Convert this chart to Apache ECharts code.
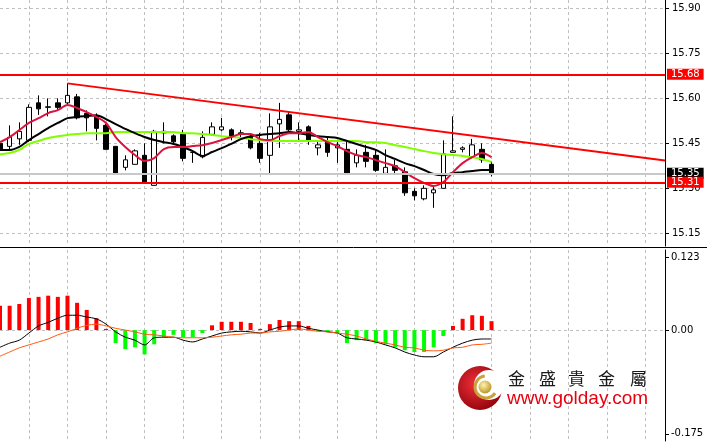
<!DOCTYPE html>
<html><head><meta charset="utf-8">
<script src="https://cdn.jsdelivr.net/npm/echarts@6/dist/echarts.min.js"></script>
<style>html,body{margin:0;padding:0;background:#fff}#c{width:707px;height:445px}</style>
</head><body><div id="c"></div>
<script>
// ---- data ----
const slotCount = 70;
const categories = Array.from({length: slotCount}, (_, i) => String(i));
const opens  = [15.45,15.44,15.465,15.46,15.585,15.57,15.585,15.585,15.605,15.55,
                15.54,15.51,15.44,15.37,15.38,15.41,15.31,15.485,15.475,15.48,
                15.42,15.405,15.48,15.495,15.495,15.485,15.47,15.45,15.41,15.515,
                15.545,15.49,15.505,15.435,15.455,15.435,15.43,15.385,15.42,15.41,
                15.35,15.375,15.355,15.29,15.265,15.285,15.30,15.42,15.43,15.405,
                15.43,15.38];
const highs  = [15.46,15.51,15.52,15.58,15.61,15.60,15.60,15.65,15.615,15.56,
                15.55,15.515,15.44,15.41,15.43,15.45,15.495,15.52,15.48,15.495,
                15.425,15.49,15.52,15.535,15.50,15.495,15.48,15.485,15.55,15.585,
                15.555,15.52,15.51,15.46,15.47,15.46,15.46,15.43,15.445,15.43,
                15.43,15.395,15.37,15.30,15.31,15.31,15.46,15.54,15.44,15.465,
                15.45,15.39];
const lows   = [15.42,15.43,15.445,15.455,15.545,15.54,15.56,15.58,15.53,15.49,
                15.46,15.43,15.35,15.36,15.38,15.315,15.31,15.45,15.45,15.39,
                15.385,15.40,15.475,15.49,15.46,15.47,15.43,15.385,15.35,15.435,
                15.49,15.455,15.445,15.41,15.405,15.385,15.35,15.37,15.37,15.355,
                15.35,15.35,15.275,15.26,15.26,15.235,15.30,15.42,15.42,15.40,
                15.385,15.34];
const closes = [15.43,15.47,15.49,15.57,15.565,15.572,15.57,15.61,15.535,15.535,
                15.50,15.43,15.35,15.395,15.425,15.32,15.49,15.49,15.455,15.40,
                15.42,15.47,15.505,15.505,15.47,15.48,15.435,15.40,15.505,15.53,
                15.495,15.495,15.46,15.445,15.42,15.445,15.35,15.41,15.39,15.36,
                15.37,15.36,15.285,15.275,15.30,15.295,15.415,15.425,15.435,15.445,
                15.395,15.35];
const fastMA = [15.454,15.471,15.494,15.518,15.534,15.551,15.561,15.578,15.568,15.554,
                15.538,15.518,15.471,15.438,15.411,15.391,15.401,15.431,15.438,15.438,
                15.441,15.444,15.451,15.461,15.471,15.481,15.481,15.464,15.461,15.474,
                15.484,15.484,15.488,15.471,15.454,15.441,15.424,15.411,15.404,15.394,
                15.384,15.374,15.354,15.334,15.318,15.308,15.321,15.354,15.384,15.404,
                15.418,15.404];
const midMA  = [15.428,15.428,15.438,15.461,15.481,15.501,15.518,15.534,15.538,15.541,
                15.544,15.531,15.514,15.498,15.484,15.471,15.461,15.454,15.448,15.438,
                15.424,15.408,15.421,15.434,15.448,15.464,15.474,15.478,15.481,15.484,
                15.488,15.484,15.478,15.474,15.471,15.468,15.458,15.448,15.438,15.428,
                15.411,15.398,15.384,15.374,15.361,15.348,15.344,15.351,15.354,15.358,
                15.361,15.361];
const slowMA = [15.414,15.418,15.428,15.448,15.458,15.468,15.474,15.478,15.481,15.484,
                15.484,15.484,15.488,15.488,15.488,15.488,15.488,15.488,15.488,15.484,
                15.484,15.481,15.478,15.474,15.471,15.468,15.464,15.461,15.458,15.458,
                15.458,15.458,15.458,15.458,15.458,15.458,15.458,15.458,15.454,15.454,
                15.451,15.444,15.438,15.431,15.424,15.418,15.414,15.411,15.408,15.404,
                15.398,15.388];
const macdHist = [0.041,0.041,0.044,0.054,0.056,0.058,0.056,0.058,0.046,0.034,
                  0.020,0.002,-0.022,-0.032,-0.029,-0.041,-0.024,-0.012,-0.008,-0.012,
                  -0.012,-0.005,0.008,0.014,0.014,0.014,0.012,0.002,0.010,0.017,
                  0.015,0.015,0.007,-0.002,-0.003,-0.005,-0.022,-0.017,-0.017,-0.022,
                  -0.024,-0.029,-0.034,-0.037,-0.037,-0.029,-0.010,0.007,0.019,0.025,
                  0.024,0.015];
const macdLine = [-0.029,-0.022,-0.017,-0.005,0.007,0.013,0.020,0.025,0.025,0.022,
                  0.019,0.010,-0.003,-0.012,-0.017,-0.025,-0.013,-0.012,-0.012,-0.017,
                  -0.020,-0.015,-0.010,-0.005,-0.003,-0.002,-0.003,-0.005,0.000,0.005,
                  0.007,0.007,0.003,0.000,-0.003,-0.005,-0.013,-0.015,-0.017,-0.020,
                  -0.025,-0.030,-0.037,-0.042,-0.045,-0.045,-0.037,-0.029,-0.022,-0.017,
                  -0.015,-0.015];
const signalLine = [-0.044,-0.037,-0.030,-0.025,-0.020,-0.015,-0.008,-0.003,0.003,0.008,
                    0.010,0.007,0.003,0.000,-0.003,-0.007,-0.008,-0.010,-0.012,-0.013,
                    -0.013,-0.013,-0.012,-0.010,-0.008,-0.007,-0.005,-0.005,-0.003,-0.002,
                    0.000,0.002,0.000,-0.002,-0.003,-0.005,-0.007,-0.010,-0.015,-0.019,
                    -0.022,-0.025,-0.029,-0.030,-0.034,-0.035,-0.034,-0.030,-0.029,-0.025,
                    -0.024,-0.022];
const priceTicks = [15.15, 15.30, 15.45, 15.60, 15.75, 15.90];
const macdTicks = [-0.175, 0, 0.123];
const levelLines = [15.68, 15.319];
const levelLabels = ['15.68', '15.31'];
const bidPrice = 15.35;
const bidLabel = '15.35';
const trendLine = [[7, 15.65], [69, 15.393]];
const logoChars = ['金','盛','貴','金','屬'];
const logoUrl = 'www.golday.com';

// ---- chart ----
const candleData = opens.map((o, i) => [o, closes[i], lows[i], highs[i]]);
const gridDash = {color: '#c0c0c0', width: 1, type: [3, 3]};
const vSplit = (idx) => idx % 4 === 3;
const chart = echarts.init(document.getElementById('c'), null, {renderer: 'canvas'});
const lvlLabel = (bg, txt) => ({show: true, position: 'end', distance: 2, formatter: txt,
  backgroundColor: bg, color: '#fff', fontSize: 10, fontFamily: 'DejaVu Sans', padding: [1, 4, 0, 4], lineHeight: 10});

const option = {
  animation: false,
  backgroundColor: '#fff',
  grid: [
    {left: 0, top: 0, width: 665, height: 246},
    {left: 0, top: 250, width: 665, height: 191}
  ],
  xAxis: [
    {type: 'category', gridIndex: 0, data: categories, boundaryGap: false,
     axisLine: {show: false}, axisTick: {show: false}, axisLabel: {show: false},
     splitLine: {show: true, interval: vSplit, lineStyle: gridDash}},
    {type: 'category', gridIndex: 1, data: categories, boundaryGap: false,
     axisLine: {show: false}, axisTick: {show: false}, axisLabel: {show: false},
     splitLine: {show: true, interval: vSplit, lineStyle: gridDash}}
  ],
  yAxis: [
    {type: 'value', gridIndex: 0, position: 'right', min: 15.1077, max: 15.928,
     axisLine: {show: true, lineStyle: {color: '#000', width: 1}},
     axisTick: {show: true, customValues: priceTicks, length: 4, lineStyle: {color: '#000'}},
     axisLabel: {customValues: priceTicks, formatter: (v) => v.toFixed(2), color: '#000',
       fontSize: 10, fontFamily: 'DejaVu Sans', margin: 7},
     splitLine: {show: false}},
    {type: 'value', gridIndex: 1, position: 'right', min: -0.187, max: 0.135,
     axisLine: {show: true, lineStyle: {color: '#000', width: 1}},
     axisTick: {show: true, customValues: macdTicks, length: 4, lineStyle: {color: '#000'}},
     axisLabel: {customValues: macdTicks, formatter: (v) => v === 0 ? '0.00' : v.toFixed(3), color: '#000',
       fontSize: 10, fontFamily: 'DejaVu Sans', margin: 6},
     splitLine: {show: false}}
  ],
  series: [
    {type: 'line', xAxisIndex: 0, yAxisIndex: 0, data: [], z: 1,
     markLine: {silent: true, symbol: ['none', 'none'], z: 1, label: {show: false},
       lineStyle: gridDash, data: priceTicks.map(v => ({yAxis: v}))}},
    {type: 'candlestick', xAxisIndex: 0, yAxisIndex: 0, data: candleData, barWidth: 5, z: 3,
     itemStyle: {color: '#fff', color0: '#000', borderColor: '#000', borderColor0: '#000', borderWidth: 1},
     markLine: {silent: true, symbol: ['none', 'none'], z: 6,
       data: [
         {yAxis: bidPrice, lineStyle: {color: '#c8c8c8', width: 2, type: 'solid'}, label: lvlLabel('#000', bidLabel)},
         ...levelLines.map((v, k) => ({yAxis: v, lineStyle: {color: '#ff0000', width: 2, type: 'solid'},
           label: lvlLabel('#ff0000', levelLabels[k])}))
       ]}},
    {type: 'line', xAxisIndex: 0, yAxisIndex: 0, data: slowMA, symbol: 'none', smooth: 0.3, z: 4,
     lineStyle: {color: '#7fff00', width: 2}},
    {type: 'line', xAxisIndex: 0, yAxisIndex: 0, data: midMA, symbol: 'none', smooth: 0.3, z: 4,
     lineStyle: {color: '#000', width: 2}},
    {type: 'line', xAxisIndex: 0, yAxisIndex: 0, data: fastMA, symbol: 'none', smooth: 0.3, z: 4,
     lineStyle: {color: '#dc143c', width: 2}},
    {type: 'line', xAxisIndex: 0, yAxisIndex: 0, data: trendLine, symbol: 'none', z: 5,
     lineStyle: {color: '#ff0000', width: 2}},
    {type: 'bar', xAxisIndex: 1, yAxisIndex: 1, data: macdHist, barWidth: 4, z: 2,
     itemStyle: {color: (p) => p.value >= 0 ? '#ff0000' : '#00ff00'},
     markLine: {silent: true, symbol: ['none', 'none'], z: 1, label: {show: false},
       lineStyle: gridDash, data: [{yAxis: 0}]}},
    {type: 'line', xAxisIndex: 1, yAxisIndex: 1, data: macdLine, symbol: 'none', smooth: 0.3, z: 4,
     lineStyle: {color: '#000', width: 1}},
    {type: 'line', xAxisIndex: 1, yAxisIndex: 1, data: signalLine, symbol: 'none', smooth: 0.3, z: 4,
     lineStyle: {color: '#ff5a10', width: 1}}
  ],
  graphic: [
    {type: 'line', shape: {x1: 0, y1: 247.5, x2: 707, y2: 247.5}, style: {stroke: '#000', lineWidth: 1}, z: 10},
    {type: 'circle', shape: {cx: 480, cy: 388, r: 22}, z: 20,
     style: {fill: new echarts.graphic.RadialGradient(0.4, 0.4, 0.7, [
       {offset: 0, color: '#f0303a'}, {offset: 1, color: '#8a0008'}])}},
    {type: 'circle', shape: {cx: 489, cy: 385, r: 15}, z: 21, style: {fill: '#fff'}},
    {type: 'arc', shape: {cx: 486, cy: 387, r: 11, startAngle: 0.6, endAngle: 4.6, clockwise: true}, z: 22,
     style: {stroke: '#c9a23a', lineWidth: 3, fill: null}},
    {type: 'circle', shape: {cx: 485, cy: 387, r: 6.5}, z: 23,
     style: {fill: new echarts.graphic.RadialGradient(0.4, 0.35, 0.7, [
       {offset: 0, color: '#fff3b0'}, {offset: 1, color: '#b8901e'}])}},
    ...logoChars.map((ch, k) => ({type: 'text', z: 20, left: [508, 539, 568, 598, 630][k], top: 370,
      style: {text: ch, fill: '#1a1a1a', fontSize: 17, fontFamily: 'Noto Sans CJK TC'}})),
    {type: 'text', z: 20, left: 507, top: 389,
     style: {text: logoUrl, fill: '#e8000f', fontSize: 19, fontFamily: 'Liberation Sans'}}
  ]
};
chart.setOption(option);
</script></body></html>
